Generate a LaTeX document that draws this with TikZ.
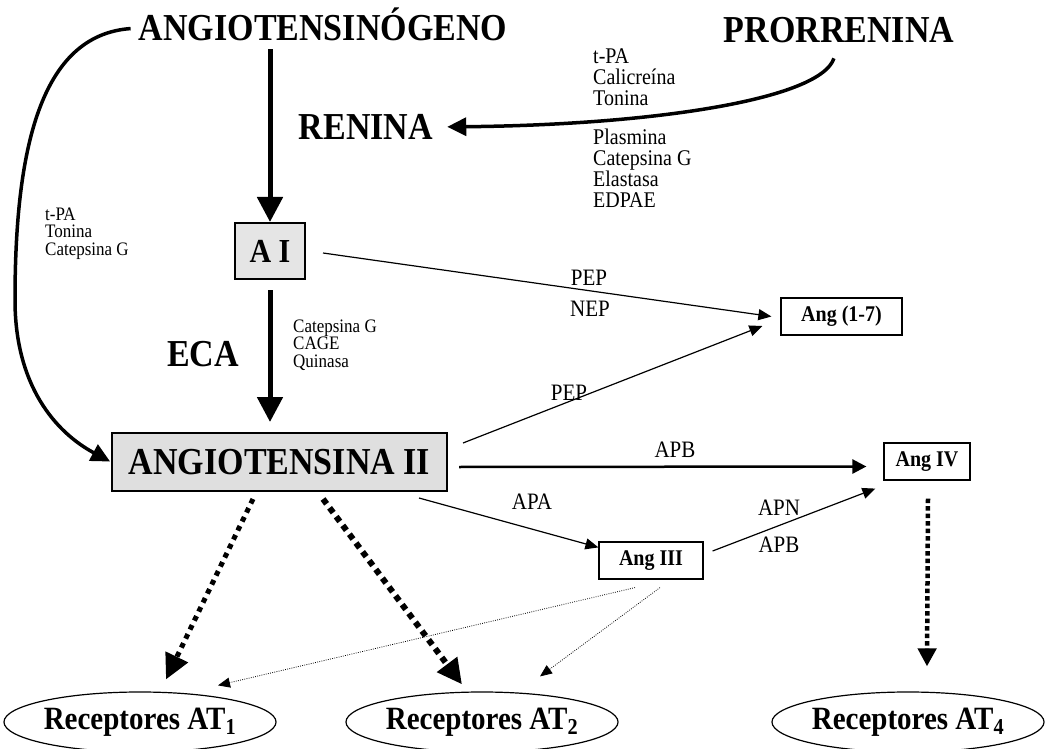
\documentclass[tikz,border=0pt]{standalone}
\usepackage{graphicx}
\usepackage{fontspec}
\setmainfont{Liberation Serif}
\usetikzlibrary{arrows.meta,shapes.geometric}

% the typeface is set slightly taller than wide
\newcommand{\vstretch}[1]{\scalebox{1}[1.12]{#1}}
\newcommand{\enzstack}[1]{\scalebox{1}[1.12]{\begin{tabular}{@{}l@{}}#1\end{tabular}}}

\begin{document}
\begin{tikzpicture}[x=1pt,y=-1pt,
  title/.style={font=\fontsize{34}{34}\selectfont\bfseries, inner sep=0pt, text height=26pt, text depth=0pt},
  enz/.style={font=\fontsize{20}{17.4}\selectfont, inner sep=0pt, anchor=west},
  enzsmall/.style={font=\fontsize{17}{14.7}\selectfont, inner sep=0pt, anchor=west},
  lbl/.style={font=\fontsize{21}{21}\selectfont, inner sep=0pt},
  bigbox/.style={draw, line width=2pt, inner sep=0pt, font=\bfseries},
  smallbox/.style={draw, line width=1.2pt, inner sep=0pt, minimum height=37pt, font=\fontsize{20}{20}\selectfont\bfseries},
  recep/.style={ellipse, draw, line width=1.2pt, inner sep=0pt, minimum height=60pt, font=\fontsize{29}{29}\selectfont\bfseries},
  heavy/.style={line width=5pt, -{Triangle[length=25pt,width=25pt]}},
  curvedarrow/.style={line width=3.5pt, -{Triangle[length=19pt,width=18pt]}},
  thinarrow/.style={line width=1.2pt, -{Triangle[length=13pt,width=11pt]}},
  midarrow/.style={line width=2.5pt, -{Triangle[length=14pt,width=14pt]}},
  dotarrow/.style={line width=5pt, dash pattern=on 5pt off 5pt, -{Triangle[length=25pt,width=24pt]}},
  finedot/.style={line width=0.8pt, dash pattern=on 0.8pt off 1.4pt, -{Triangle[length=12pt,width=10pt]}}
]
\useasboundingbox (0,0) rectangle (1045,749);
\clip (0,0) rectangle (1045,749);

% main substances
\node[title] (angen) at (323,28) {\vstretch{ANGIOTENSINÓGENO}};
\node[title] (prorr) at (839,30) {\vstretch{PRORRENINA}};
\node[title] (renina) at (366,127) {\vstretch{RENINA}};
\node[title] (eca) at (203,353) {\vstretch{ECA}};

\node[bigbox, fill=gray!20, minimum width=70pt, minimum height=56pt,
      font=\fontsize{30}{30}\selectfont\bfseries] (ai) at (270,251) {\vstretch{A I}};
\node[bigbox, fill=gray!25, minimum width=335pt, minimum height=58pt,
      font=\fontsize{34}{34}\selectfont\bfseries] (angii) at (279.5,462) {\vstretch{ANGIOTENSINA II}};

\node[smallbox, minimum width=121pt] (a17) at (841.5,316.5) {\vstretch{Ang (1-7)}};
\node[smallbox, minimum width=86pt]  (a4)  at (927,461.5) {\vstretch{Ang IV}};
\node[smallbox, minimum width=104pt] (a3)  at (651,560.5) {\vstretch{Ang III}};

\node[recep, minimum width=235pt] (at1) at (140,722) {\vstretch{Receptores AT\textsubscript{1}}};
\node[recep, minimum width=250pt] (at2) at (482,722) {\vstretch{Receptores AT\textsubscript{2}}};
\node[recep, minimum width=229pt] (at4) at (908,722) {\vstretch{Receptores AT\textsubscript{4}}};

% enzyme lists
\node[enz] (enzA) at (593,80) {\enzstack{t-PA\\Calicreína\\Tonina}};
\node[enz] (enzB) at (593,171) {\enzstack{Plasmina\\Catepsina G\\Elastasa\\EDPAE}};
\node[enzsmall] (enzC) at (45,234) {\enzstack{t-PA\\Tonina\\Catepsina G}};
\node[enzsmall] (enzD) at (293,346) {\enzstack{Catepsina G\\CAGE\\Quinasa}};

% peptidase labels
\node[lbl] (pep1) at (589,278) {\vstretch{PEP}};
\node[lbl] (nep)  at (590,309) {\vstretch{NEP}};
\node[lbl] (pep2) at (569,393) {\vstretch{PEP}};
\node[lbl] (apb1) at (675,450) {\vstretch{APB}};
\node[lbl] (apa)  at (532,502) {\vstretch{APA}};
\node[lbl] (apn)  at (779,508) {\vstretch{APN}};
\node[lbl] (apb2) at (779,545) {\vstretch{APB}};

% main cascade
\draw[heavy, shorten <=8pt] (angen.south -| ai.north) -- (ai.north);
\draw[heavy, shorten <=10pt, shorten >=10pt] (ai.south) -- (ai.south |- angii.north);
\draw[curvedarrow, shorten <=16pt, shorten >=14pt]
  (prorr.south) .. controls (820,100) and (650,125) .. (renina.east);
\draw[curvedarrow, shorten <=8pt, shorten >=1pt]
  (angen.west) .. controls (40,35) and (15,150) .. (15,300)
  .. controls (15,385) and (55,432) .. (angii.west);

% secondary conversions
\draw[thinarrow] ([xshift=17pt,yshift=-2pt]ai.east) -- ([xshift=-9pt]a17.west);
\draw[thinarrow] ([xshift=15pt,yshift=19pt]angii.east) -- ([xshift=-18pt,yshift=-9.5pt]a17.west);
\draw[midarrow] ([xshift=11pt,yshift=-5pt]angii.east) -- ([xshift=-17pt,yshift=-5pt]a4.west);
\draw[thinarrow] ([xshift=-29pt,yshift=-6pt]angii.south east) -- ([yshift=-6pt]a3.north west);
\draw[thinarrow] ([xshift=9pt,yshift=9.5pt]a3.east) -- ([xshift=-8pt,yshift=-8pt]a4.south west);

% receptor actions
\draw[dotarrow] ([xshift=-26.5pt,yshift=-7pt]angii.south) -- ([xshift=26pt,yshift=12pt]at1.north);
\draw[dotarrow, line width=6pt, dash pattern=on 6pt off 5pt] ([xshift=43.5pt,yshift=-7pt]angii.south) -- ([xshift=-20pt,yshift=7pt]at2.north);
\draw[dotarrow, line width=4.5pt, dash pattern=on 4.5pt off 3pt, -{Triangle[length=18pt,width=18pt]}]
  ([xshift=1pt,yshift=-18pt]a4.south) -- ([yshift=25pt]a4.south |- at4.north);
\draw[finedot] ([xshift=-16pt,yshift=-8pt]a3.south) -- ([xshift=78pt,yshift=6pt]at1.north);
\draw[finedot] ([xshift=9pt,yshift=-8pt]a3.south) -- ([xshift=58pt,yshift=15pt]at2.north);
\end{tikzpicture}
\end{document}
